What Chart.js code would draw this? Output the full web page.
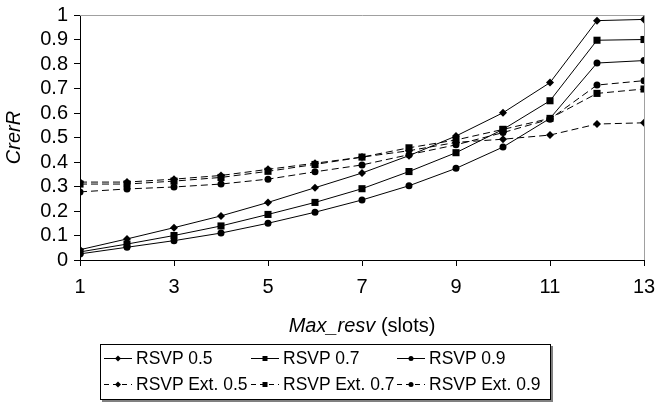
<!DOCTYPE html>
<html lang="en">
<head>
  <meta charset="UTF-8">
  <title>CrerR vs Max_resv</title>
  <style>
    body {
      margin: 0;
      background: #fff;
      font-family: 'Liberation Sans', Arial, sans-serif;
    }

    #wrap {
      position: relative;
      width: 656px;
      height: 403px;
    }

    #legend {
      position: absolute;
      left: 100px;
      top: 344px;
      width: 451px;
      height: 56px;
      border: 1px solid #000;
      box-shadow: 2px 2px 0 #808080;
      box-sizing: border-box;
      background: #fff;
    }

    .item {
      position: absolute;
      display: flex;
      align-items: center;
      font-size: 17.5px;
      height: 24px;
      white-space: nowrap;
      color: #000;
    }

    .item canvas {
      margin-right: 4px;
    }
  </style>
  <script src="https://cdn.jsdelivr.net/npm/chart.js"></script>
</head>
<body>

  <div id="wrap">
    <canvas id="chart" width="656" height="403"></canvas>
    <div id="legend"></div>
  </div>

  <script>
    // data
    const slots = [1, 2, 3, 4, 5, 6, 7, 8, 9, 10, 11, 12, 13];
    const xTicks = [1, 3, 5, 7, 9, 11, 13];
    const yTicks = [0, 0.1, 0.2, 0.3, 0.4, 0.5, 0.6, 0.7, 0.8, 0.9, 1];

    const rsvp05 = [0.042, 0.086, 0.132, 0.18, 0.235, 0.295, 0.355, 0.426, 0.506, 0.601, 0.724, 0.977, 0.982];
    const rsvp07 = [0.033, 0.065, 0.10, 0.139, 0.186, 0.235, 0.291, 0.361, 0.438, 0.533, 0.65, 0.897, 0.90];
    const rsvp09 = [0.025, 0.052, 0.079, 0.11, 0.15, 0.195, 0.245, 0.303, 0.374, 0.461, 0.578, 0.804, 0.814];
    const ext05 = [0.318, 0.318, 0.33, 0.345, 0.37, 0.395, 0.42, 0.446, 0.48, 0.493, 0.51, 0.555, 0.56];
    const ext07 = [0.31, 0.31, 0.322, 0.337, 0.362, 0.39, 0.42, 0.458, 0.49, 0.533, 0.578, 0.68, 0.698];
    const ext09 = [0.278, 0.29, 0.298, 0.31, 0.33, 0.36, 0.388, 0.43, 0.47, 0.52, 0.575, 0.714, 0.732];

    const seriesNames = ['RSVP 0.5', 'RSVP 0.7', 'RSVP 0.9', 'RSVP Ext. 0.5', 'RSVP Ext. 0.7', 'RSVP Ext. 0.9'];
    const seriesValues = [rsvp05, rsvp07, rsvp09, ext05, ext07, ext09];

    const yTitle = 'CrerR';
    const xTitleItalic = 'Max_resv';
    const xTitleRest = ' (slots)';

    const FONT = "'Liberation Sans', Arial, sans-serif";
    const shapes = ['rectRot', 'rect', 'circle'];
    const radii = { rectRot: 4, rect: 5, circle: 3.5 };

    const datasets = seriesValues.map((vals, i) => {
      const shape = shapes[i % 3];
      return {
        label: seriesNames[i],
        data: slots.map((x, j) => ({ x: x, y: vals[j] })),
        borderColor: '#000',
        borderWidth: 1,
        borderDash: i < 3 ? [] : [7, 4],
        pointStyle: shape,
        pointRadius: radii[shape],
        pointBackgroundColor: '#000',
        pointBorderColor: '#000',
        pointBorderWidth: 0,
        tension: 0,
        fill: false
      };
    });

    // grey frame on top/right + axis titles
    const extras = {
      id: 'extras',
      beforeDatasetsDraw(chart) {
        const { ctx, chartArea: a } = chart;
        ctx.save();
        ctx.strokeStyle = '#a0a0a0';
        ctx.lineWidth = 1;
        ctx.beginPath();
        ctx.moveTo(a.left, Math.round(a.top) + 0.5);
        ctx.lineTo(Math.round(a.right) + 0.5, Math.round(a.top) + 0.5);
        ctx.lineTo(Math.round(a.right) + 0.5, a.bottom);
        ctx.stroke();
        ctx.restore();
      },
      afterDraw(chart) {
        const { ctx, chartArea: a } = chart;
        ctx.save();
        ctx.fillStyle = '#000';
        ctx.textBaseline = 'middle';

        ctx.font = 'italic 20px ' + FONT;
        ctx.save();
        ctx.translate(14, (a.top + a.bottom) / 2);
        ctx.rotate(-Math.PI / 2);
        ctx.textAlign = 'center';
        ctx.fillText(yTitle, 0, 0);
        ctx.restore();

        const wI = ctx.measureText(xTitleItalic).width;
        ctx.font = '20px ' + FONT;
        const wR = ctx.measureText(xTitleRest).width;
        const x0 = (a.left + a.right) / 2 - (wI + wR) / 2;
        const y0 = 326;
        ctx.textAlign = 'left';
        ctx.font = 'italic 20px ' + FONT;
        ctx.fillText(xTitleItalic, x0, y0);
        ctx.font = '20px ' + FONT;
        ctx.fillText(xTitleRest, x0 + wI, y0);
        ctx.restore();
      }
    };

    const ctx = document.getElementById('chart').getContext('2d');
    const chart = new Chart(ctx, {
      type: 'line',
      data: { datasets: datasets },
      plugins: [extras],
      options: {
        responsive: false,
        animation: false,
        layout: { padding: { top: 15, right: 0, left: 0, bottom: 0 } },
        plugins: {
          legend: { display: false },
          tooltip: { enabled: false }
        },
        scales: {
          x: {
            type: 'linear',
            min: 1,
            max: 13,
            afterBuildTicks: s => { s.ticks = xTicks.map(v => ({ value: v })); },
            afterFit: s => { s.height = 143; s.paddingRight = 12; s.paddingLeft = 0; },
            ticks: {
              font: { size: 20, family: FONT },
              color: '#000',
              padding: 9,
              maxRotation: 0,
              autoSkip: false,
              callback: v => String(v)
            },
            grid: { drawOnChartArea: false, drawTicks: true, tickLength: 6, color: '#000' },
            border: { display: true, color: '#000', width: 1 }
          },
          y: {
            min: 0,
            max: 1,
            afterBuildTicks: s => { s.ticks = yTicks.map(v => ({ value: v })); },
            afterFit: s => { s.width = 80; s.paddingTop = 0; s.paddingBottom = 0; },
            ticks: {
              font: { size: 20, family: FONT },
              color: '#000',
              padding: 6,
              autoSkip: false,
              callback: v => String(v)
            },
            grid: { drawOnChartArea: false, drawTicks: true, tickLength: 6, color: '#000' },
            border: { display: true, color: '#000', width: 1 }
          }
        }
      }
    });

    // legend in a framed box, three columns
    function drawMarker(c, shape, x, y) {
      c.beginPath();
      if (shape === 'rectRot') {
        const r = 3;
        c.moveTo(x, y - r); c.lineTo(x + r, y); c.lineTo(x, y + r); c.lineTo(x - r, y);
        c.closePath();
      } else if (shape === 'rect') {
        c.rect(x - 2.5, y - 2.5, 5, 5);
      } else {
        c.arc(x, y, 2.5, 0, Math.PI * 2);
      }
      c.fill();
    }

    const legend = document.getElementById('legend');
    const colLeft = [3, 150, 296];
    const rowTop = [1, 27];
    datasets.forEach((ds, i) => {
      const item = document.createElement('div');
      item.className = 'item';
      item.style.left = colLeft[i % 3] + 'px';
      item.style.top = rowTop[Math.floor(i / 3)] + 'px';
      const cv = document.createElement('canvas');
      cv.width = 28;
      cv.height = 12;
      const c = cv.getContext('2d');
      c.strokeStyle = '#000';
      c.fillStyle = '#000';
      c.lineWidth = 1;
      c.setLineDash(ds.borderDash.length ? [5, 4] : []);
      c.beginPath();
      c.moveTo(0, 6.5);
      c.lineTo(28, 6.5);
      c.stroke();
      drawMarker(c, ds.pointStyle, 14, 6.5);
      item.appendChild(cv);
      const span = document.createElement('span');
      span.textContent = ds.label;
      item.appendChild(span);
      legend.appendChild(item);
    });
  </script>

</body>
</html>
